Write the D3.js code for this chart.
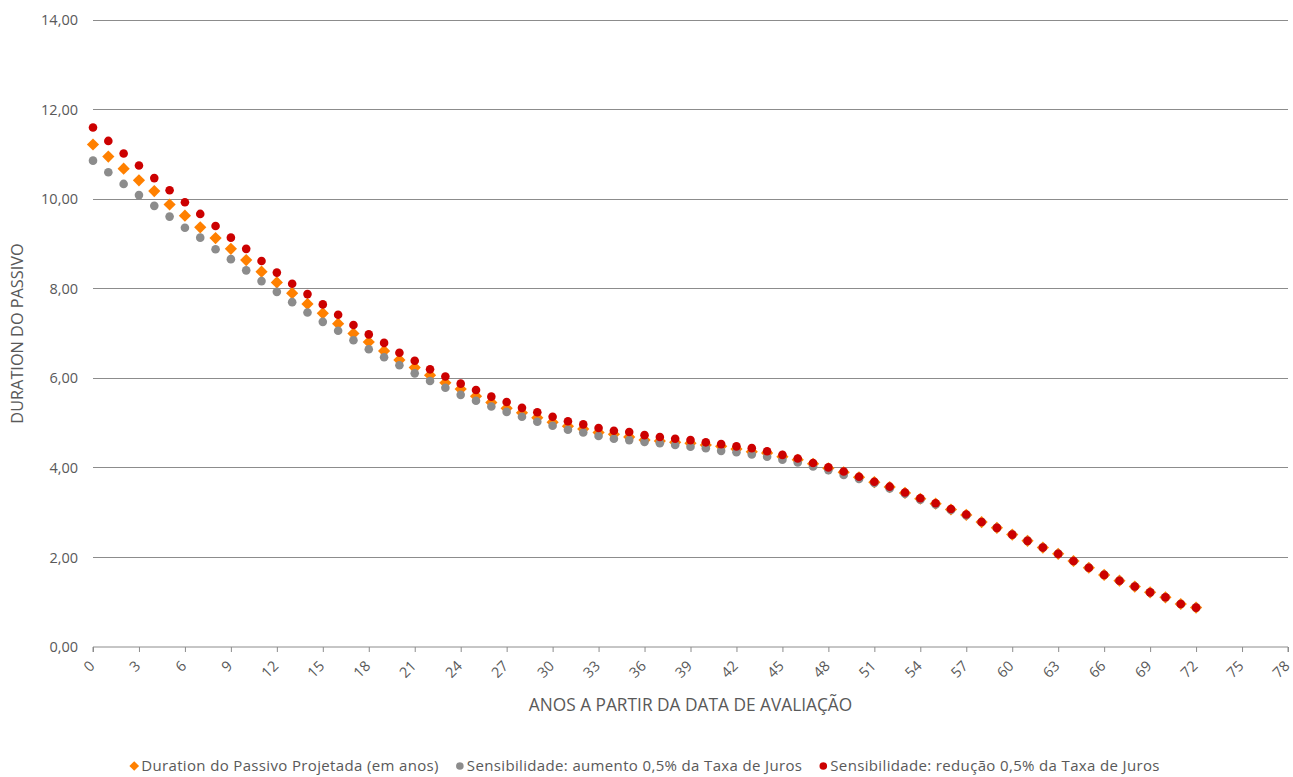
<!DOCTYPE html>
<html><head><meta charset="utf-8">
<script src="https://cdn.jsdelivr.net/npm/d3@7"></script>
<style>body{margin:0;background:#fff}svg text{font-family:"Open Sans","Liberation Sans",sans-serif;fill:#595959}</style>
</head><body><svg id="c" width="1293" height="777"></svg>
<script>
const years = d3.range(0, 73);
const durationBase = [11.22,10.95,10.68,10.42,10.18,9.88,9.63,9.37,9.13,8.89,8.64,8.38,8.14,7.90,7.66,7.45,7.22,7.00,6.81,6.61,6.41,6.24,6.07,5.90,5.76,5.60,5.46,5.33,5.23,5.12,5.02,4.93,4.87,4.79,4.75,4.69,4.62,4.60,4.57,4.55,4.51,4.48,4.42,4.36,4.33,4.25,4.18,4.09,3.99,3.90,3.79,3.68,3.57,3.44,3.31,3.20,3.07,2.95,2.79,2.66,2.51,2.37,2.22,2.08,1.92,1.77,1.61,1.48,1.35,1.22,1.11,0.96,0.88];
const durationUp = [10.86,10.60,10.34,10.09,9.85,9.61,9.36,9.14,8.88,8.66,8.41,8.17,7.93,7.70,7.47,7.26,7.06,6.85,6.65,6.47,6.29,6.11,5.94,5.79,5.63,5.50,5.37,5.25,5.14,5.03,4.94,4.85,4.79,4.71,4.65,4.62,4.58,4.55,4.51,4.47,4.44,4.38,4.35,4.30,4.25,4.18,4.12,4.03,3.95,3.84,3.75,3.66,3.54,3.42,3.29,3.18,3.06,2.94,2.79,2.66,2.51,2.37,2.22,2.08,1.92,1.77,1.61,1.48,1.35,1.22,1.11,0.96,0.88];
const durationDown = [11.60,11.30,11.02,10.75,10.47,10.20,9.93,9.67,9.40,9.14,8.89,8.62,8.36,8.11,7.88,7.65,7.42,7.19,6.98,6.79,6.57,6.39,6.20,6.04,5.88,5.74,5.59,5.47,5.34,5.24,5.14,5.04,4.97,4.89,4.83,4.80,4.73,4.69,4.65,4.62,4.57,4.53,4.48,4.44,4.37,4.29,4.21,4.11,4.01,3.92,3.80,3.69,3.58,3.45,3.32,3.21,3.08,2.96,2.79,2.66,2.51,2.37,2.22,2.08,1.92,1.77,1.61,1.48,1.35,1.22,1.11,0.96,0.88];
const xTicks = d3.range(0, 79, 3);
const yTicks = [0,2,4,6,8,10,12,14];
const seriesNames = ["Duration do Passivo Projetada (em anos)","Sensibilidade: aumento 0,5% da Taxa de Juros","Sensibilidade: redução 0,5% da Taxa de Juros"];
const colors = ["#FF8000","#8C8C8C","#CC0000"];
const xTitle = "ANOS A PARTIR DA DATA DE AVALIAÇÃO";
const yTitle = "DURATION DO PASSIVO";

const svg = d3.select("#c");
const L=93, R=1288, T=20, B=647;
const x = d3.scaleLinear().domain([0,78]).range([L,R]);
const y = d3.scaleLinear().domain([0,14]).range([B,T]);
const fmt = v => d3.format(".2f")(v).replace(".", ",");

svg.append("g").selectAll("line").data(yTicks.filter(d=>d>0)).join("line")
  .attr("x1",L).attr("x2",R).attr("y1",d=>y(d)).attr("y2",d=>y(d))
  .attr("stroke","#8C8C8C").attr("stroke-width",1).attr("shape-rendering","crispEdges");

svg.append("g").selectAll("text").data(yTicks).join("text")
  .attr("x",78).attr("y",d=>y(d)).attr("dy","0.35em").attr("text-anchor","end")
  .attr("font-size",14.5).text(fmt);

const xa = svg.append("g").attr("transform",`translate(0,${B})`)
  .call(d3.axisBottom(x).tickValues(xTicks).tickSize(5).tickFormat(d=>d));
xa.select(".domain").attr("stroke","#8C8C8C").attr("d",`M${L},5V0H${R}V5`);
xa.selectAll(".tick line").attr("stroke","#8C8C8C");
xa.selectAll(".tick text").attr("font-size",14.5).attr("fill","#595959")
  .attr("font-family",null).style("font-family",'"Open Sans","Liberation Sans",sans-serif')
  .attr("text-anchor","end").attr("dy",null).attr("y",0)
  .attr("transform","translate(2,20) rotate(-45)");

svg.append("text").attr("x",(L+R)/2).attr("y",711).attr("text-anchor","middle").attr("font-size",17.3).text(xTitle);
svg.append("text").attr("transform",`translate(23,${(T+B)/2}) rotate(-90)`).attr("text-anchor","middle").attr("font-size",16.3).text(yTitle);

const diamond = d3.symbol().type(d3.symbolDiamond2).size(95);
svg.append("g").selectAll("path").data(years).join("path")
  .attr("transform",d=>`translate(${x(d)},${y(durationBase[d])})`)
  .attr("d",diamond).attr("fill",colors[0]);
svg.append("g").selectAll("circle").data(years).join("circle")
  .attr("cx",d=>x(d)).attr("cy",d=>y(durationUp[d])).attr("r",4.3).attr("fill",colors[1]);
svg.append("g").selectAll("circle").data(years).join("circle")
  .attr("cx",d=>x(d)).attr("cy",d=>y(durationDown[d])).attr("r",4.3).attr("fill",colors[2]);

const lg = svg.append("g");
let cx = 0;
seriesNames.forEach((n,i)=>{
  const g = lg.append("g");
  if(i===0) g.append("path").attr("transform","translate(5,0)").attr("d",d3.symbol().type(d3.symbolDiamond2).size(60)).attr("fill",colors[i]);
  else g.append("circle").attr("cx",5).attr("cy",0).attr("r",3.8).attr("fill",colors[i]);
  const t = g.append("text").attr("x",12).attr("dy","0.35em").attr("font-size",15).attr("letter-spacing",0.35).text(n);
  const w = 12 + t.node().getComputedTextLength();
  g.attr("transform",`translate(${cx},0)`);
  cx += w + 16;
});
const total = cx - 16;
lg.attr("transform",`translate(${(1293-total)/2 - 2},766)`);
</script></body></html>
